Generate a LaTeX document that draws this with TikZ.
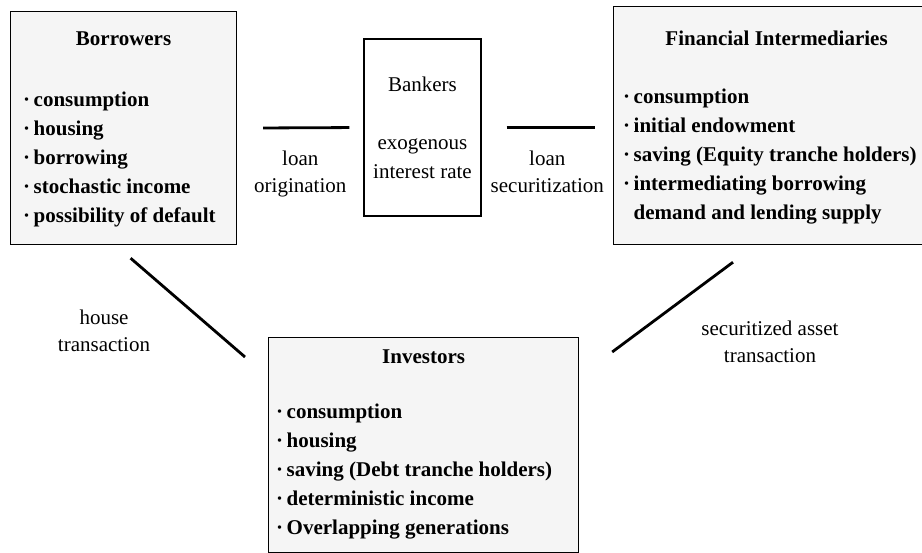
\documentclass[tikz,border=0pt]{standalone}
\usepackage{fontspec}
\setmainfont{Liberation Serif}
\usetikzlibrary{positioning}
\tikzstyle{agent} = [rectangle, draw=black, line width=1.2pt, fill=black!4, inner sep=0pt, anchor=north west]
\tikzstyle{bank} = [rectangle, draw=black, line width=1.2pt, fill=white, align=center, minimum width=117, minimum height=177, font=\fontsize{21}{29}\selectfont]
\tikzstyle{head} = [inner sep=0pt, font=\fontsize{21}{29}\selectfont\bfseries]
\tikzstyle{items} = [inner sep=0pt, anchor=north west, align=left, font=\fontsize{21}{29}\selectfont\bfseries]
\tikzstyle{tag} = [inner sep=0pt, align=center, font=\fontsize{21}{27}\selectfont]
\tikzstyle{link} = [line width=2.8pt]
\newcommand{\dotitem}{·\,}

\begin{document}
\begin{tikzpicture}[x=1pt, y=-1pt]
\clip (0,0) rectangle (922,553);

% Borrowers
\node (borrowers) [agent, minimum width=226, minimum height=233] at (10,11) {};
\node (borrowersname) [head] at ([shift={(0,28)}]borrowers.north) {Borrowers};
\node (borrowerslist) [items] at ([shift={(13,81)}]borrowers.north west)
  {\dotitem consumption\\\dotitem housing\\\dotitem borrowing\\\dotitem stochastic income\\\dotitem possibility of default};

% Bankers
\node (bankers) [bank] at (422.5,127.5) {Bankers\\[29pt]exogenous\\interest rate};

% Financial Intermediaries
\node (intermediaries) [agent, minimum width=326, minimum height=238] at (613,6) {};
\node (intermediariesname) [head] at ([shift={(0,32)}]intermediaries.north) {Financial Intermediaries};
\node (intermediarieslist) [items] at ([shift={(10,83)}]intermediaries.north west)
  {\dotitem consumption\\\dotitem initial endowment\\\dotitem saving (Equity tranche holders)\\\dotitem intermediating borrowing\\\phantom{\dotitem}demand and lending supply};

% Investors
\node (investors) [agent, minimum width=310, minimum height=215] at (268,337) {};
\node (investorsname) [head] at ([shift={(0,20)}]investors.north) {Investors};
\node (investorslist) [items] at ([shift={(8,67)}]investors.north west)
  {\dotitem consumption\\\dotitem housing\\\dotitem saving (Debt tranche holders)\\\dotitem deterministic income\\\dotitem Overlapping generations};

% Links
\draw [link, shorten <=26pt, shorten >=14pt] (borrowers.east) -- node [tag, below=22pt] {loan\\origination} (bankers.west);
\draw [link, shorten <=25pt, shorten >=18pt] (bankers.east) -- node [tag, below=22pt] {loan\\securitization} (bankers.east -| intermediaries.west);
\draw [link] ([shift={(7,13)}]borrowers.south) -- ([shift={(-23,20)}]investors.north west);
\draw [link] ([shift={(33,15)}]investors.north east) -- ([shift={(120,17)}]intermediaries.south west);

% Link labels
\node (housetag) [tag] at (104,331) {house\\transaction};
\node (assettag) [tag] at (770,342) {securitized asset\\transaction};

\end{tikzpicture}
\end{document}
